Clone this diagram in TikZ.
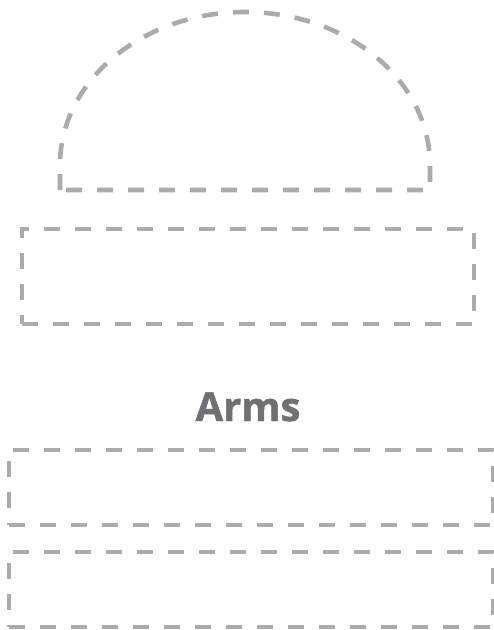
\documentclass[tikz,border=0pt]{standalone}
\usepackage{fontspec}
\setmainfont{Open Sans}
\newfontfamily\armsfont{Open Sans}[FakeBold=1.2]
\definecolor{dashgray}{HTML}{ABABAF}
\definecolor{textgray}{HTML}{707074}
\begin{document}
\begin{tikzpicture}[x=1pt,y=-1pt,
  outline/.style={draw=dashgray,line width=4.6pt,dash pattern=on 16pt off 15pt},
  box/.style={outline,rectangle,inner sep=0pt}]
\useasboundingbox (0,0) rectangle (494,630);
\draw[outline] (60,190) -- (60,165) arc[start angle=180,end angle=0,x radius=185,y radius=-153] -- (430,190) -- cycle;
\node[box,minimum width=452pt,minimum height=95pt] (body) at (248,276.5) {};
\node[font=\armsfont\bfseries\fontsize{40}{46}\selectfont,text=textgray,anchor=base] (arms) at (248,421) {Arms};
\node[box,minimum width=484pt,minimum height=75pt] (arm1) at (251,487.5) {};
\node[box,minimum width=484pt,minimum height=75pt] (arm2) at (251,589.5) {};
\end{tikzpicture}
\end{document}
